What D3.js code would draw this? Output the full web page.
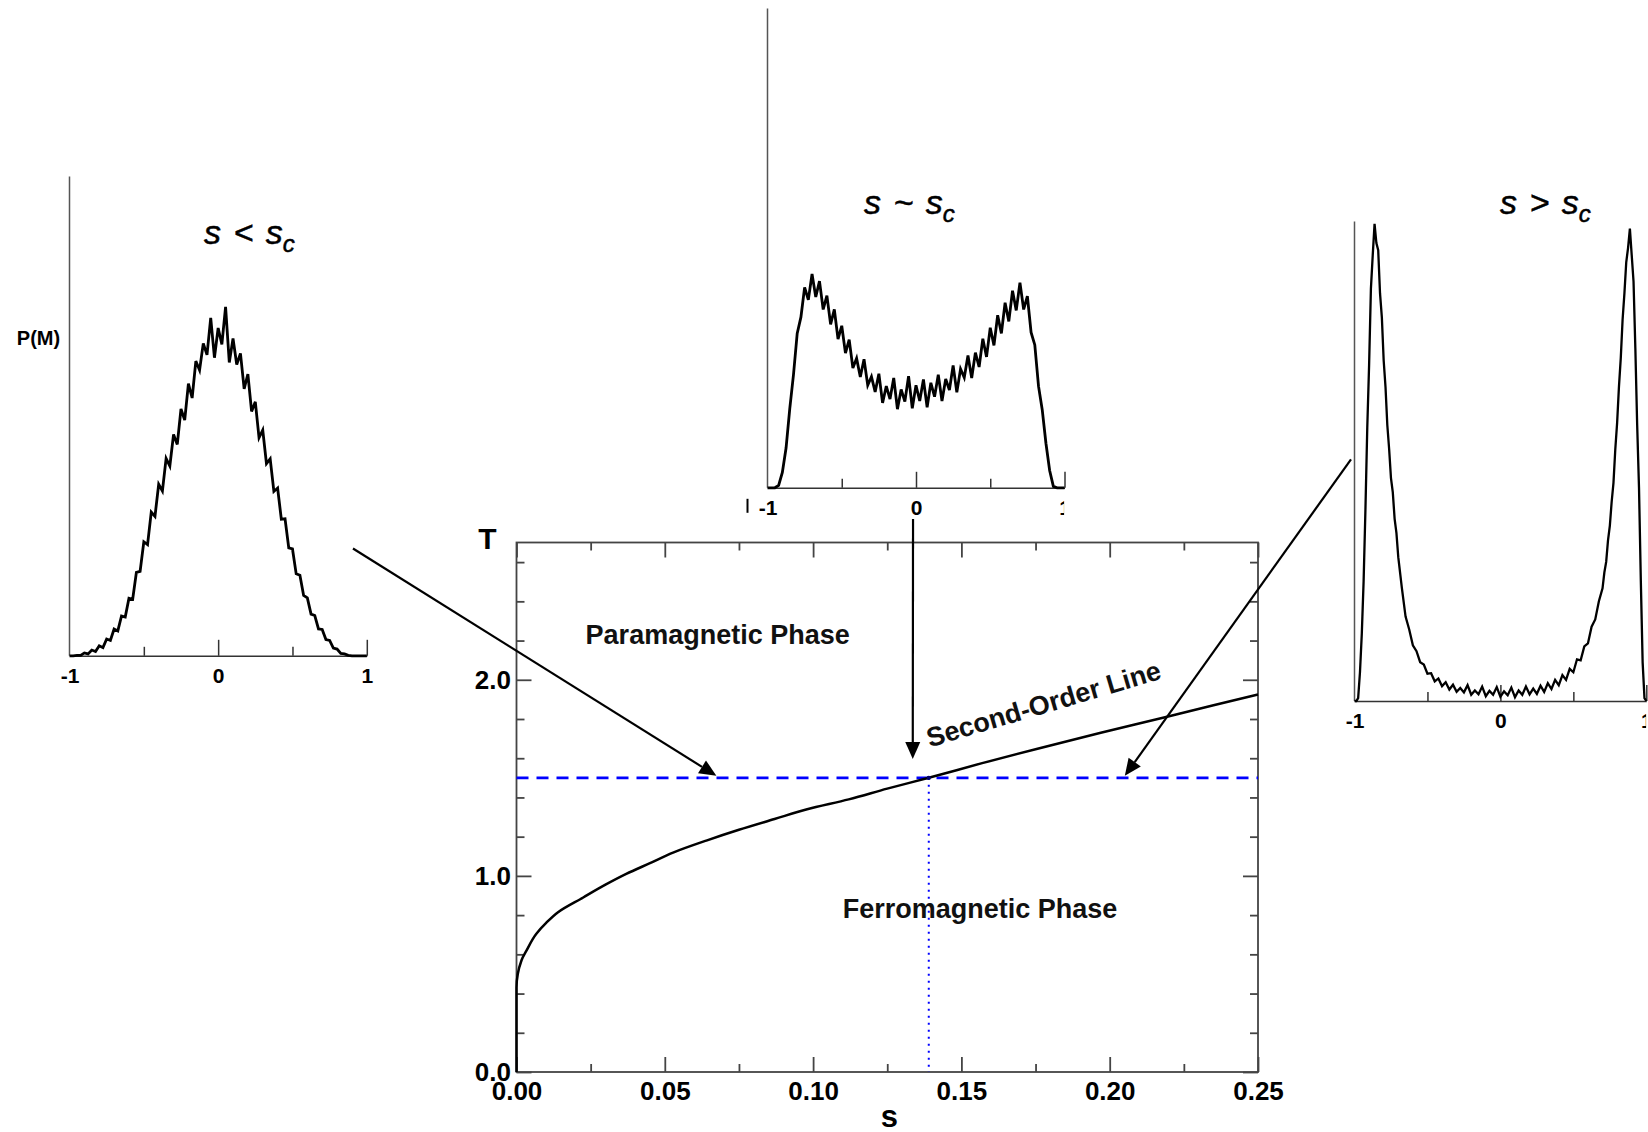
<!DOCTYPE html>
<html>
<head>
<meta charset="utf-8">
<script src="https://cdn.jsdelivr.net/npm/d3@7"></script>
<style>
  html, body { margin: 0; padding: 0; background: #fff; }
  svg { display: block; }
</style>
</head>
<body>
<svg id="fig" width="1648" height="1132"></svg>
<script>
// ---------------- data ----------------
// Second-order transition line T_c(s)
const boundaryS = [0, 0, 0.0017, 0.0034, 0.0067, 0.010, 0.014, 0.0225, 0.030, 0.037, 0.045, 0.053, 0.064, 0.075, 0.087, 0.098, 0.112, 0.125, 0.139, 0.157, 0.176, 0.197, 0.219, 0.235, 0.25];
const boundaryT = [0, 0.43, 0.57, 0.62, 0.705, 0.76, 0.815, 0.89, 0.955, 1.01, 1.065, 1.12, 1.18, 1.235, 1.29, 1.34, 1.39, 1.445, 1.50, 1.575, 1.65, 1.73, 1.81, 1.87, 1.925];

const sTicks = [0, 0.05, 0.10, 0.15, 0.20, 0.25];
const sTickLabels = ["0.00", "0.05", "0.10", "0.15", "0.20", "0.25"];
const sMinorTicks = [0.025, 0.075, 0.125, 0.175, 0.225];
const tTicks = [0, 1, 2];
const tTickLabels = ["0.0", "1.0", "2.0"];
const tMinorTicks = [0.2, 0.4, 0.6, 0.8, 1.2, 1.4, 1.6, 1.8, 2.2, 2.4, 2.6];
const tDomain = [0, 2.7];
const sDomain = [0, 0.25];

const sCritical = 0.139;   // s_c at the slice temperature
const tSlice = 1.5;        // temperature of the horizontal cut

// Magnetisation histograms P(M) along the cut (arbitrary units)
const histBelow = [ // s < s_c
  [-1,0],[-0.975,0],[-0.95,0.001],[-0.925,0.001],[-0.9,0.006],[-0.875,0.004],[-0.85,0.012],[-0.825,0.009],
  [-0.8,0.021],[-0.775,0.017],[-0.75,0.035],[-0.725,0.032],[-0.7,0.056],[-0.675,0.052],[-0.65,0.083],[-0.625,0.081],
  [-0.6,0.120],[-0.575,0.118],[-0.55,0.174],[-0.525,0.176],[-0.5,0.238],[-0.475,0.232],[-0.45,0.300],[-0.425,0.291],
  [-0.4,0.358],[-0.375,0.344],[-0.35,0.412],[-0.325,0.396],[-0.3,0.462],[-0.275,0.441],[-0.25,0.515],[-0.225,0.492],
  [-0.2,0.568],[-0.175,0.538],[-0.15,0.615],[-0.125,0.596],[-0.1,0.652],[-0.075,0.628],[-0.05,0.705],[-0.025,0.622],
  [0,0.684],[0.025,0.650],[0.05,0.728],[0.075,0.612],[0.1,0.662],[0.125,0.608],[0.15,0.631],[0.175,0.557],
  [0.2,0.588],[0.225,0.510],[0.25,0.530],[0.275,0.455],[0.3,0.471],[0.325,0.401],[0.35,0.411],[0.375,0.343],
  [0.4,0.350],[0.425,0.285],[0.45,0.286],[0.475,0.225],[0.5,0.223],[0.525,0.171],[0.55,0.168],[0.575,0.126],
  [0.6,0.121],[0.625,0.087],[0.65,0.084],[0.675,0.056],[0.7,0.055],[0.725,0.034],[0.75,0.032],[0.775,0.016],
  [0.8,0.014],[0.825,0.005],[0.85,0.004],[0.875,0.001],[0.9,0],[0.925,0],[0.95,0],[0.975,0],[1,0]
];
const histNear = [ // s ~ s_c
  [-1,0],[-0.975,0],[-0.95,0],[-0.925,0.005],[-0.9,0.032],[-0.875,0.083],[-0.85,0.165],[-0.825,0.236],
  [-0.8,0.322],[-0.775,0.356],[-0.75,0.418],[-0.725,0.392],[-0.7,0.446],[-0.675,0.398],[-0.65,0.431],[-0.625,0.372],
  [-0.6,0.401],[-0.575,0.341],[-0.55,0.372],[-0.525,0.310],[-0.5,0.338],[-0.475,0.281],[-0.45,0.309],[-0.425,0.250],
  [-0.4,0.270],[-0.375,0.231],[-0.35,0.268],[-0.325,0.214],[-0.3,0.232],[-0.275,0.200],[-0.25,0.238],[-0.225,0.177],
  [-0.2,0.212],[-0.175,0.185],[-0.15,0.229],[-0.125,0.164],[-0.1,0.205],[-0.075,0.180],[-0.05,0.233],[-0.025,0.166],
  [0,0.214],[0.025,0.181],[0.05,0.226],[0.075,0.168],[0.1,0.219],[0.125,0.190],[0.15,0.236],[0.175,0.181],
  [0.2,0.227],[0.225,0.204],[0.25,0.255],[0.275,0.199],[0.3,0.248],[0.325,0.230],[0.35,0.276],[0.375,0.229],
  [0.4,0.282],[0.425,0.252],[0.45,0.311],[0.475,0.273],[0.5,0.334],[0.525,0.297],[0.55,0.360],[0.575,0.322],
  [0.6,0.386],[0.625,0.347],[0.65,0.411],[0.675,0.370],[0.7,0.428],[0.725,0.372],[0.75,0.400],[0.775,0.324],
  [0.8,0.298],[0.825,0.212],[0.85,0.163],[0.875,0.093],[0.9,0.036],[0.925,0.003],[0.95,0],[0.975,0],[1,0]
];
const histAbove = [ // s > s_c
  [-1,0],[-0.9875,0],[-0.975,0.006],[-0.9625,0.06],[-0.95,0.14],[-0.9375,0.25],[-0.925,0.40],[-0.9125,0.57],
  [-0.9,0.70],[-0.8875,0.86],[-0.875,0.93],[-0.8625,0.995],[-0.85,0.955],[-0.8375,0.94],[-0.825,0.85],[-0.8125,0.80],
  [-0.8,0.71],[-0.7875,0.655],[-0.775,0.575],[-0.7625,0.525],[-0.75,0.465],[-0.7375,0.435],[-0.725,0.38],[-0.7125,0.35],
  [-0.7,0.30],[-0.675,0.235],[-0.65,0.176],[-0.625,0.149],[-0.6,0.116],[-0.575,0.104],[-0.55,0.081],[-0.525,0.076],
  [-0.5,0.057],[-0.475,0.058],[-0.45,0.041],[-0.425,0.047],[-0.4,0.031],[-0.375,0.039],[-0.35,0.024],[-0.325,0.034],
  [-0.3,0.019],[-0.275,0.027],[-0.25,0.018],[-0.225,0.033],[-0.2,0.013],[-0.175,0.022],[-0.15,0.014],[-0.125,0.030],
  [-0.1,0.010],[-0.075,0.021],[-0.05,0.013],[-0.025,0.029],[0,0.009],[0.025,0.020],[0.05,0.012],[0.075,0.028],
  [0.1,0.008],[0.125,0.022],[0.15,0.013],[0.175,0.030],[0.2,0.014],[0.225,0.026],[0.25,0.015],[0.275,0.032],
  [0.3,0.019],[0.325,0.037],[0.35,0.025],[0.375,0.044],[0.4,0.033],[0.425,0.054],[0.45,0.044],[0.475,0.067],
  [0.5,0.060],[0.525,0.087],[0.55,0.085],[0.575,0.114],[0.6,0.120],[0.625,0.155],[0.65,0.170],[0.675,0.208],
  [0.7,0.235],[0.7125,0.268],[0.725,0.290],[0.7375,0.335],[0.75,0.365],[0.7625,0.415],[0.775,0.455],[0.7875,0.525],
  [0.8,0.58],[0.8125,0.655],[0.825,0.715],[0.8375,0.795],[0.85,0.85],[0.8625,0.915],[0.875,0.945],[0.8875,0.985],
  [0.9,0.93],[0.9125,0.875],[0.925,0.735],[0.9375,0.575],[0.95,0.445],[0.9625,0.25],[0.975,0.08],[0.9875,0.006],[1,0]
];

const mTicks = [-1, -0.5, 0, 0.5, 1];
const mTickLabels = ["-1", "", "0", "", "1"];
const insetTitles = [["s < s", "c"], ["s ~ s", "c"], ["s > s", "c"]];

// Arrow from each histogram (start in inset M/P units) to its point on the cut (s, T)
const arrowFrom = [[0.907, 0.224], [-0.02, -0.065], [-1.024, 0.504]];
const arrowTo = [[0.0674, 1.51], [0.1336, 1.596], [0.2051, 1.51]];

// ---------------- drawing ----------------
const FONT = "'Liberation Sans', Arial, Helvetica, sans-serif";
const svg = d3.select("#fig");
svg.append("rect").attr("width", 1648).attr("height", 1132).attr("fill", "#fff");

const sx = d3.scaleLinear().domain(sDomain).range([516.5, 1258]);
const ty = d3.scaleLinear().domain(tDomain).range([1072, 542.5]);

const AX = "#444";
function styleAxis(g, size) {
  g.select(".domain").remove();
  g.selectAll(".tick line").attr("stroke", AX).attr("stroke-width", 1.8);
  g.selectAll(".tick text")
    .attr("font-family", FONT).attr("font-weight", "bold")
    .attr("font-size", size || 26).attr("fill", "#000");
}

const main = svg.append("g");

// plot frame
main.append("rect")
  .attr("x", sx(0)).attr("y", ty(tDomain[1]))
  .attr("width", sx(sDomain[1]) - sx(0)).attr("height", ty(0) - ty(tDomain[1]))
  .attr("fill", "none").attr("stroke", AX).attr("stroke-width", 1.8);

// bottom / top axes (ticks point inward)
main.append("g").attr("transform", `translate(0,${ty(0)})`)
  .call(d3.axisBottom(sx).tickValues(sTicks).tickFormat((d, i) => sTickLabels[i]).tickSize(-15).tickPadding(10))
  .call(g => styleAxis(g));
main.append("g").attr("transform", `translate(0,${ty(0)})`)
  .call(d3.axisBottom(sx).tickValues(sMinorTicks).tickFormat("").tickSize(-8))
  .call(g => styleAxis(g));
main.append("g").attr("transform", `translate(0,${ty(tDomain[1])})`)
  .call(d3.axisTop(sx).tickValues(sTicks).tickFormat("").tickSize(-15))
  .call(g => styleAxis(g));
main.append("g").attr("transform", `translate(0,${ty(tDomain[1])})`)
  .call(d3.axisTop(sx).tickValues(sMinorTicks).tickFormat("").tickSize(-8))
  .call(g => styleAxis(g));

// left / right axes
main.append("g").attr("transform", `translate(${sx(0)},0)`)
  .call(d3.axisLeft(ty).tickValues(tTicks).tickFormat((d, i) => tTickLabels[i]).tickSize(-15).tickPadding(5.5))
  .call(g => styleAxis(g));
main.append("g").attr("transform", `translate(${sx(0)},0)`)
  .call(d3.axisLeft(ty).tickValues(tMinorTicks).tickFormat("").tickSize(-8))
  .call(g => styleAxis(g));
main.append("g").attr("transform", `translate(${sx(sDomain[1])},0)`)
  .call(d3.axisRight(ty).tickValues(tTicks).tickFormat("").tickSize(-15))
  .call(g => styleAxis(g));
main.append("g").attr("transform", `translate(${sx(sDomain[1])},0)`)
  .call(d3.axisRight(ty).tickValues(tMinorTicks).tickFormat("").tickSize(-8))
  .call(g => styleAxis(g));

// axis titles
main.append("text").text("T")
  .attr("x", sx(0) - 29).attr("y", ty(tDomain[1]) + 6)
  .attr("text-anchor", "middle")
  .attr("font-family", FONT).attr("font-weight", "bold").attr("font-size", 30);
main.append("text").text("s")
  .attr("x", (sx(0) + sx(sDomain[1])) / 2 + 2).attr("y", ty(0) + 55)
  .attr("text-anchor", "middle")
  .attr("font-family", FONT).attr("font-weight", "bold").attr("font-size", 31);

// horizontal cut at T = tSlice and vertical marker at s_c
main.append("line")
  .attr("x1", sx(0)).attr("x2", sx(sDomain[1]))
  .attr("y1", ty(tSlice)).attr("y2", ty(tSlice))
  .attr("stroke", "#0000ff").attr("stroke-width", 2.6).attr("stroke-dasharray", "12,8");
main.append("line")
  .attr("x1", sx(sCritical)).attr("x2", sx(sCritical))
  .attr("y1", ty(tSlice)).attr("y2", ty(0))
  .attr("stroke", "#0000ff").attr("stroke-width", 2).attr("stroke-dasharray", "2,5");

// transition line (T rises monotonically along it)
main.append("path")
  .datum(d3.zip(boundaryS, boundaryT))
  .attr("d", d3.line().x(d => sx(d[0])).y(d => ty(d[1])).curve(d3.curveMonotoneY))
  .attr("fill", "none").attr("stroke", "#000").attr("stroke-width", 2.5)
  .attr("stroke-linejoin", "round");
main.append("circle")
  .attr("cx", sx(sCritical)).attr("cy", ty(tSlice)).attr("r", 2.2)
  .attr("fill", "#000066");

// region labels
function label(text, s, t, rot) {
  const t0 = main.append("text").text(text)
    .attr("x", sx(s)).attr("y", ty(t))
    .attr("font-family", FONT).attr("font-weight", "bold").attr("font-size", 27)
    .attr("fill", "#111");
  if (rot) t0.attr("transform", `rotate(${rot},${sx(s)},${ty(t)})`);
}
label("Paramagnetic Phase", 0.0233, 2.18);
label("Ferromagnetic Phase", 0.110, 0.787);
label("Second-Order Line", 0.1393, 1.655, -16.5);

// ---------------- histogram insets ----------------
const insets = [
  { data: histBelow, x0: 69.5, x1: 366.8, yBase: 655.8, yTop: 176.6, titleX: 204, titleY: 244.3, clipRight: null, stroke: 2.8 },
  { data: histNear, x0: 767.5, x1: 1064.5, yBase: 487.8, yTop: 8.4, titleX: 864, titleY: 214.3, clipRight: 1063.6, stroke: 2.8 },
  { data: histAbove, x0: 1354.5, x1: 1646.3, yBase: 701, yTop: 221.5, titleX: 1500, titleY: 214.3, clipRight: 1645.6, stroke: 2.3 }
];

const defs = svg.append("defs");
const insetScales = insets.map((cfg, k) => {
  const x = d3.scaleLinear().domain([-1, 1]).range([cfg.x0, cfg.x1]);
  const y = d3.scaleLinear().domain([0, 1]).range([cfg.yBase, cfg.yTop]);
  const g = svg.append("g");

  // left axis line
  g.append("line")
    .attr("x1", x(-1)).attr("x2", x(-1)).attr("y1", y(0)).attr("y2", y(1))
    .attr("stroke", "#555").attr("stroke-width", 1.5);

  // bottom axis
  const ax = g.append("g").attr("transform", `translate(0,${y(0)})`)
    .call(d3.axisBottom(x).tickValues(mTicks).tickFormat((d, i) => mTickLabels[i])
      .tickSize(-16).tickSizeOuter(0).tickPadding(12));
  ax.select(".domain").attr("stroke", "#333").attr("stroke-width", 1.6);
  ax.selectAll(".tick line").attr("stroke", "#333").attr("stroke-width", 1.5)
    .attr("y2", d => (Math.abs(d) === 0.5 ? -9 : (d === -1 ? 0 : -16)));
  ax.selectAll(".tick text")
    .attr("font-family", FONT).attr("font-weight", "bold").attr("font-size", 21).attr("fill", "#000");
  if (cfg.clipRight) {
    // the last label sits on the inset's cut edge: only its left sliver shows
    const id = "clip" + k;
    defs.append("clipPath").attr("id", id)
      .append("rect").attr("x", -60).attr("y", -10)
      .attr("width", 60 + cfg.clipRight - x(1)).attr("height", 60);
    ax.selectAll(".tick text").filter(d => d === 1).attr("clip-path", `url(#${id})`);
  }

  // histogram trace
  g.append("path")
    .datum(cfg.data)
    .attr("d", d3.line().x(d => x(d[0])).y(d => y(d[1])))
    .attr("fill", "none").attr("stroke", "#000").attr("stroke-width", cfg.stroke)
    .attr("stroke-linejoin", "miter");

  // title
  const tt = g.append("text")
    .attr("x", cfg.titleX).attr("y", cfg.titleY)
    .attr("font-family", FONT).attr("font-style", "italic").attr("font-size", 34)
    .attr("word-spacing", 3).attr("fill", "#000")
    .attr("stroke", "#000").attr("stroke-width", 0.5);
  tt.append("tspan").text(insetTitles[k][0]);
  tt.append("tspan").text(insetTitles[k][1]).attr("font-size", 24).attr("dy", 8);

  return { x, y };
});

// y-axis title of the first histogram
svg.append("text").text("P(M)")
  .attr("x", 38.5).attr("y", 345)
  .attr("text-anchor", "middle")
  .attr("font-family", FONT).attr("font-weight", "bold").attr("font-size", 20);

// stray bar left of the middle inset's "-1" label
svg.append("line")
  .attr("x1", insetScales[1].x(-1) - 20).attr("x2", insetScales[1].x(-1) - 20)
  .attr("y1", insetScales[1].y(0) + 11).attr("y2", insetScales[1].y(0) + 25)
  .attr("stroke", "#000").attr("stroke-width", 2);

// ---------------- arrows ----------------
const arrows = svg.append("g");
arrowFrom.forEach((f, i) => {
  const sc = insetScales[i];
  const x1 = sc.x(f[0]), y1 = sc.y(f[1]);
  const x2 = sx(arrowTo[i][0]), y2 = ty(arrowTo[i][1]);
  const ang = Math.atan2(y2 - y1, x2 - x1);
  const L = 17, W = 7.5;
  const bx = x2 - L * Math.cos(ang), by = y2 - L * Math.sin(ang);
  arrows.append("line")
    .attr("x1", x1).attr("y1", y1).attr("x2", bx).attr("y2", by)
    .attr("stroke", "#000").attr("stroke-width", 2.2);
  const px = -Math.sin(ang) * W, py = Math.cos(ang) * W;
  arrows.append("path")
    .attr("d", `M${x2},${y2}L${bx + px},${by + py}L${bx - px},${by - py}Z`)
    .attr("fill", "#000");
});
</script>
</body>
</html>
